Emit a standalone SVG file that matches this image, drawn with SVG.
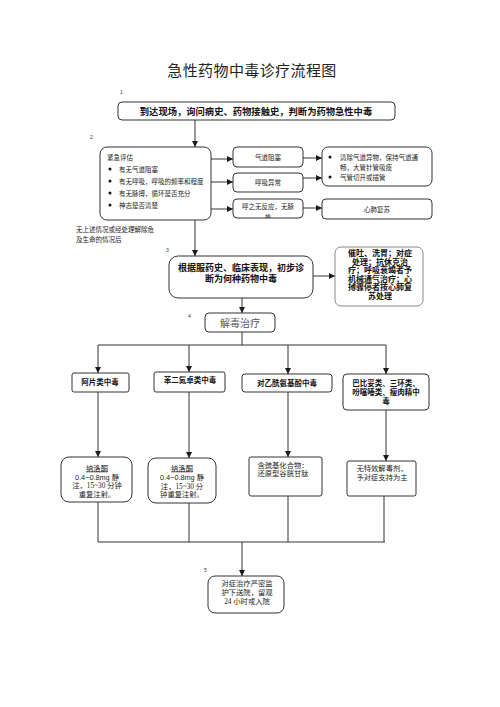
<svg xmlns="http://www.w3.org/2000/svg" width="500" height="707" viewBox="0 0 500 707">
<defs>
<marker id="ar" markerUnits="userSpaceOnUse" markerWidth="6" markerHeight="6" refX="6" refY="3" orient="auto">
<path d="M0,0 L6,3 L0,6 Z" fill="#1a1a1a"/>
</marker>
<clipPath id="c3"><rect x="233" y="199" width="70" height="19"/></clipPath>
</defs>
<style>
.bx{fill:#fff;stroke:#333;stroke-width:1}
.ln{fill:none;stroke:#333;stroke-width:1}
.ar{fill:none;stroke:#333;stroke-width:1;marker-end:url(#ar)}
.t{font-family:"Liberation Serif","Noto Sans CJK SC",serif;fill:#222}
.b{font-family:"Liberation Sans","Noto Sans CJK SC",sans-serif;font-weight:bold;fill:#111}
.s{font-size:6.5px}
.n{font-family:"Liberation Sans",sans-serif;font-size:5px;fill:#333}
</style>
<rect width="500" height="707" fill="#fff"/>
<text x="252" y="76" text-anchor="middle" font-family="Noto Sans CJK SC,sans-serif" font-size="15" letter-spacing="0.4" fill="#222">急性药物中毒诊疗流程图</text>

<g id="connectors">
<path class="ar" d="M195,120 V147"/>
<path class="ar" d="M211,159 H233"/>
<path class="ar" d="M211,182 H233"/>
<path class="ar" d="M211,209 H233"/>
<path class="ar" d="M303,158 H322"/>
<path class="ar" d="M303,178 H322"/>
<path class="ar" d="M303,208 H322"/>
<path class="ar" d="M195,220 V256"/>
<path class="ar" d="M313,276 H335"/>
<path class="ar" d="M242,298 V313"/>
<path class="ln" d="M242,332 V345 M98,345 H386"/>
<path class="ar" d="M98,345 V373"/>
<path class="ar" d="M189,345 V372"/>
<path class="ar" d="M288,345 V374"/>
<path class="ar" d="M386,345 V374"/>
<path class="ar" d="M98,392 V457"/>
<path class="ar" d="M189,392 V458"/>
<path class="ar" d="M288,392 V457"/>
<path class="ar" d="M386,410 V461"/>
<path class="ln" d="M98,502 V542 M189,503 V542 M288,496 V542 M384,496 V542 M98,542 H385"/>
<path class="ar" d="M242,542 V576"/>
</g>

<text class="n" x="120" y="94">1</text>
<text class="n" x="90" y="139">2</text>
<text class="n" x="166" y="252">3</text>
<text class="n" x="188" y="318">4</text>
<text class="n" x="204" y="572">5</text>

<g id="n1">
<rect class="bx" x="118" y="102" width="277" height="18" rx="4"/>
<text class="b" x="256" y="114.5" text-anchor="middle" font-size="9.3">到达现场，询问病史、药物接触史，判断为药物急性中毒</text>
</g>

<g id="n2">
<rect class="bx" x="100" y="147" width="111" height="73" rx="7"/>
<g class="t s">
<text x="107" y="159.5">紧急评估</text>
<text x="119" y="171.5">有无气道阻塞</text>
<text x="119" y="183.5">有无呼吸，呼吸的频率和程度</text>
<text x="119" y="195.5">有无脉搏，循环是否充分</text>
<text x="119" y="207.5">神志是否清楚</text>
</g>
<circle cx="110" cy="169" r="1.5" fill="#111"/>
<circle cx="110" cy="181" r="1.5" fill="#111"/>
<circle cx="110" cy="193" r="1.5" fill="#111"/>
<circle cx="110" cy="205" r="1.5" fill="#111"/>
</g>

<text class="t s" x="76" y="232">无上述情况或经处理解除危</text>
<text class="t s" x="76" y="242">及生命的情况后</text>

<g id="n2a">
<rect class="bx" x="233" y="147" width="70" height="20" rx="4"/>
<text class="t s" x="268" y="159.5" text-anchor="middle">气道阻塞</text>
</g>
<g id="n2b">
<rect class="bx" x="233" y="173" width="70" height="19" rx="4"/>
<text class="t s" x="268" y="184.5" text-anchor="middle">呼吸异常</text>
</g>
<g id="n2c">
<rect class="bx" x="233" y="199" width="70" height="19" rx="4"/>
<text class="t s" x="268" y="209" text-anchor="middle">呼之无反应，无脉</text>
<text class="t" x="268" y="218.5" text-anchor="middle" font-size="5.5" clip-path="url(#c3)">搏</text>
</g>
<g id="n2d">
<rect class="bx" x="322" y="147" width="110" height="39" rx="6"/>
<circle cx="330" cy="157" r="1.5" fill="#111"/>
<circle cx="330" cy="177" r="1.5" fill="#111"/>
<text class="t s" x="340" y="159.5">清除气道异物，保持气道通</text>
<text class="t s" x="340" y="169.5">畅，大管针管吸痰</text>
<text class="t s" x="340" y="179.5">气管切开或插管</text>
</g>
<g id="n2e">
<rect class="bx" x="322" y="199" width="110" height="20" rx="4"/>
<text class="t s" x="377" y="211.5" text-anchor="middle">心肺复苏</text>
</g>

<g id="n3">
<rect class="bx" x="169" y="256" width="144" height="42" rx="9"/>
<text class="b" x="241" y="271" text-anchor="middle" font-size="9">根据服药史、临床表现，初步诊</text>
<text class="b" x="241" y="282" text-anchor="middle" font-size="9">断为何种药物中毒</text>
</g>

<g id="n3r">
<rect class="bx" x="335" y="247" width="88" height="59" rx="6" style="stroke:#888"/>
<g class="b" font-size="8" text-anchor="middle">
<text x="380" y="256">催吐、洗胃；对症</text>
<text x="380" y="264.5">处理；抗休克治</text>
<text x="380" y="273">疗；呼吸衰竭者予</text>
<text x="380" y="281.5">机械通气治疗；心</text>
<text x="380" y="290">搏骤停者按心肺复</text>
<text x="380" y="298.5">苏处理</text>
</g>
</g>

<g id="n4">
<rect class="bx" x="205" y="313" width="70" height="19" rx="4"/>
<text class="t" x="240" y="326.5" text-anchor="middle" font-size="10" style="fill:#555">解毒治疗</text>
</g>

<g id="n5a">
<rect class="bx" x="72" y="373" width="57" height="19" rx="2"/>
<text class="b" x="100" y="385" text-anchor="middle" font-size="7.5">阿片类中毒</text>
</g>
<g id="n5b">
<rect class="bx" x="154" y="372" width="71" height="20" rx="2"/>
<text class="b" x="190" y="383" text-anchor="middle" font-size="7.5">苯二氮卓类中毒</text>
</g>
<g id="n5c">
<rect class="bx" x="242" y="374" width="90" height="18" rx="3"/>
<text class="b" x="287" y="385.5" text-anchor="middle" font-size="7.5">对乙酰氨基酚中毒</text>
</g>
<g id="n5d">
<rect class="bx" x="343" y="374" width="86" height="36" rx="4"/>
<g class="b" font-size="7.5" text-anchor="middle">
<text x="386" y="386">巴比妥类、三环类、</text>
<text x="386" y="395">吩噻嗪类、瘦肉精中</text>
<text x="386" y="404">毒</text>
</g>
</g>

<g id="n6a">
<rect class="bx" x="61" y="457" width="71" height="45" rx="8"/>
<g class="t" font-size="7.3" text-anchor="middle">
<text x="97" y="470.5" text-decoration="underline">纳洛酮</text>
<text x="97" y="479.5" font-family="Liberation Sans,sans-serif">0.4~0.8mg <tspan font-family="Liberation Serif,Noto Sans CJK SC,serif">静</tspan></text>
<text x="97" y="488">注，15~30 分钟</text>
<text x="97" y="496.5">重复注射。</text>
</g>
</g>
<g id="n6b">
<rect class="bx" x="148" y="458" width="68" height="45" rx="8"/>
<g class="t" font-size="7.3" text-anchor="middle">
<text x="182" y="470.5" text-decoration="underline">纳洛酮</text>
<text x="182" y="479.5" font-family="Liberation Sans,sans-serif">0.4~0.8mg <tspan font-family="Liberation Serif,Noto Sans CJK SC,serif">静</tspan></text>
<text x="182" y="488.5">注，15~30 分</text>
<text x="182" y="497">钟重复注射。</text>
</g>
</g>
<g id="n6c">
<rect class="bx" x="249" y="457" width="73" height="39" rx="2"/>
<text class="t" x="283" y="467.5" text-anchor="middle" font-size="7.3">含巯基化合物：</text>
<text class="t" x="283" y="476" text-anchor="middle" font-size="7.3">还原型谷胱甘肽</text>
</g>
<g id="n6d">
<rect class="bx" x="347" y="461" width="69" height="35" rx="2"/>
<text class="t" x="382" y="471" text-anchor="middle" font-size="7.3">无特效解毒剂，</text>
<text class="t" x="382" y="480" text-anchor="middle" font-size="7.3">予对症支持为主</text>
</g>

<g id="n7">
<rect class="bx" x="208" y="576" width="76" height="37" rx="7"/>
<g class="t" font-size="7.3" text-anchor="middle">
<text x="247" y="586">对症治疗严密监</text>
<text x="247" y="594.5">护下送院，留观</text>
<text x="247" y="603.5">24 小时或入院</text>
</g>
</g>
</svg>
